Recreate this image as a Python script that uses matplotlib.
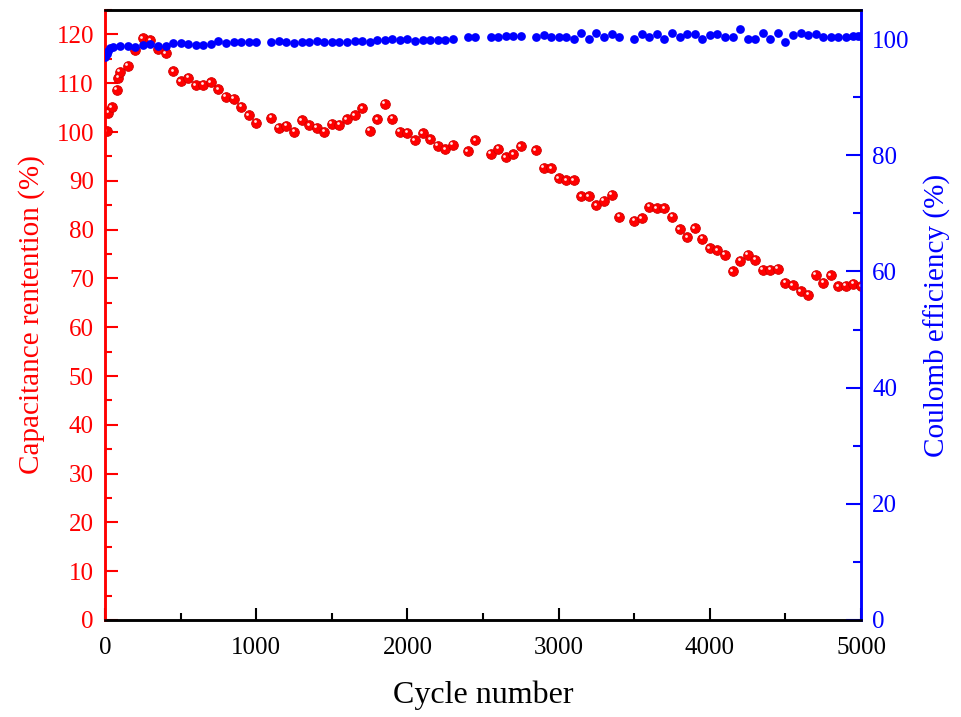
import matplotlib
matplotlib.use("Agg")
import matplotlib.pyplot as plt
import matplotlib.transforms as mtransforms
from matplotlib.ticker import MultipleLocator

# capacitance retention (%) vs cycle number
cyc_ret = [10, 22, 44, 77, 88, 99, 150, 200, 250, 300, 350, 400, 450, 500, 550, 600, 650,
           700, 750, 800, 850, 900, 950, 1000, 1100, 1150, 1200, 1250, 1300, 1350, 1400,
           1450, 1500, 1550, 1600, 1650, 1700, 1750, 1800, 1850, 1900, 1950, 2000, 2050,
           2100, 2150, 2200, 2250, 2300, 2400, 2450, 2550, 2600, 2650, 2700, 2750, 2850,
           2900, 2950, 3000, 3050, 3100, 3150, 3200, 3250, 3300, 3350, 3400, 3500, 3550,
           3600, 3650, 3700, 3750, 3800, 3850, 3900, 3950, 4000, 4050, 4100, 4150, 4200,
           4250, 4300, 4350, 4400, 4450, 4500, 4550, 4600, 4650, 4700, 4750, 4800, 4850,
           4900, 4950, 5000]
retention = [100.2, 103.9, 105.1, 108.7, 111.1, 112.3, 113.6, 116.9, 119.2, 118.8, 117.1,
             116.1, 112.5, 110.4, 111.1, 109.6, 109.7, 110.2, 108.8, 107.2, 106.8, 105.2,
             103.4, 101.9, 102.9, 100.9, 101.3, 100.1, 102.4, 101.4, 100.9, 100.1, 101.7,
             101.5, 102.6, 103.4, 104.9, 100.3, 102.6, 105.8, 102.7, 100.1, 99.8, 98.3,
             99.7, 98.5, 97.2, 96.5, 97.4, 96.1, 98.3, 95.5, 96.6, 94.8, 95.4, 97.1, 96.3,
             92.7, 92.6, 90.5, 90.1, 90.1, 86.8, 86.8, 85.0, 85.9, 87.1, 82.6, 81.8, 82.3,
             84.7, 84.4, 84.4, 82.6, 80.1, 78.4, 80.3, 78.1, 76.2, 75.8, 74.8, 71.5, 73.6,
             74.9, 73.8, 71.8, 71.8, 72.0, 69.1, 68.6, 67.4, 66.7, 70.8, 69.1, 70.6, 68.4,
             68.5, 68.9, 68.4]

# coulomb efficiency (%)
cyc_ce = [1, 11, 22, 33, 55, 100, 150, 200, 250, 300, 350, 400, 450, 500, 550, 600, 650,
          700, 750, 800, 850, 900, 950, 1000, 1100, 1150, 1200, 1250, 1300, 1350, 1400,
          1450, 1500, 1550, 1600, 1650, 1700, 1750, 1800, 1850, 1900, 1950, 2000, 2050,
          2100, 2150, 2200, 2250, 2300, 2400, 2450, 2550, 2600, 2650, 2700, 2750, 2850,
          2900, 2950, 3000, 3050, 3100, 3150, 3200, 3250, 3300, 3350, 3400, 3500, 3550,
          3600, 3650, 3700, 3750, 3800, 3850, 3900, 3950, 4000, 4050, 4100, 4150, 4200,
          4250, 4300, 4350, 4400, 4450, 4500, 4550, 4600, 4650, 4700, 4750, 4800, 4850,
          4900, 4950, 4980, 5000]
efficiency = [96.9, 97.4, 97.9, 98.5, 98.7, 98.8, 98.8, 98.7, 98.9, 99.1, 98.8, 98.8, 99.3,
              99.3, 99.1, 98.9, 98.9, 99.1, 99.7, 99.4, 99.5, 99.5, 99.5, 99.5, 99.5, 99.7,
              99.5, 99.4, 99.5, 99.5, 99.6, 99.5, 99.5, 99.5, 99.5, 99.6, 99.6, 99.5, 99.8,
              99.9, 100.1, 99.9, 100.1, 99.6, 99.8, 99.8, 99.8, 99.9, 100.1, 100.3, 100.3,
              100.4, 100.4, 100.5, 100.5, 100.5, 100.3, 100.7, 100.3, 100.3, 100.4, 100.1,
              101.0, 100.1, 101.0, 100.3, 100.8, 100.3, 100.1, 100.8, 100.3, 100.8, 100.1,
              101.1, 100.3, 100.9, 100.9, 100.1, 100.7, 100.9, 100.4, 100.4, 101.8, 100.1,
              100.1, 101.0, 100.1, 101.0, 99.5, 100.7, 101.0, 100.7, 100.9, 100.3, 100.3,
              100.3, 100.3, 100.6, 100.5, 100.5]

plt.rcParams['font.family'] = ['Liberation Serif', 'DejaVu Serif']

RED = '#ff0000'
BLUE = '#0000ff'

fig = plt.figure(figsize=(9.61, 7.17), dpi=100)
ax = fig.add_axes([0.1093, 0.1353, 0.7867, 0.8507])
ax2 = ax.twinx()

# red spheres with a small highlight
ax.plot(cyc_ret, retention, 'o', color=RED, markersize=7.0, markeredgecolor='#d00000',
        markeredgewidth=0.6, zorder=3)
hl = mtransforms.offset_copy(ax.transData, fig=fig, x=-1.1, y=1.1, units='points')
ax.plot(cyc_ret, retention, 'o', color='white', markersize=2.0, markeredgewidth=0,
        alpha=0.9, transform=hl, zorder=4)

ax2.plot(cyc_ce, efficiency, 'o', color=BLUE, markersize=6.3, markeredgewidth=0, zorder=3)

ax.set_xlim(0, 5000)
ax.set_ylim(0, 125)
ax2.set_ylim(0, 105)

ax.xaxis.set_major_locator(MultipleLocator(1000))
ax.xaxis.set_minor_locator(MultipleLocator(500))
ax.yaxis.set_major_locator(MultipleLocator(10))
ax.yaxis.set_minor_locator(MultipleLocator(5))
ax2.yaxis.set_major_locator(MultipleLocator(20))
ax2.yaxis.set_minor_locator(MultipleLocator(10))

ax.tick_params(axis='x', which='both', direction='in', top=False, colors='black',
               labelsize=18, width=1.5, pad=12)
ax.tick_params(axis='x', which='major', length=9)
ax.tick_params(axis='x', which='minor', length=5)
ax.tick_params(axis='y', which='both', direction='in', colors=RED, labelsize=18,
               width=1.5, pad=8)
ax.tick_params(axis='y', which='major', length=9)
ax.tick_params(axis='y', which='minor', length=5)
ax2.tick_params(axis='y', which='both', direction='in', colors=BLUE, labelsize=18,
                width=1.5, pad=8)
ax2.tick_params(axis='y', which='major', length=11)
ax2.tick_params(axis='y', which='minor', length=6)

for a in (ax, ax2):
    for s in a.spines.values():
        s.set_linewidth(1.8)
    a.spines['top'].set_color('black')
    a.spines['bottom'].set_color('black')
    a.spines['left'].set_color(RED)
    a.spines['right'].set_color(BLUE)

ax.set_xlabel('Cycle number', fontsize=23, labelpad=16)
ax.set_ylabel('Capacitance rentention (%)', fontsize=21, color=RED, labelpad=8)
ax2.set_ylabel('Coulomb efficiency (%)', fontsize=21, color=BLUE, labelpad=10)

fig.savefig('out.png', dpi=100)
plt.close(fig)
